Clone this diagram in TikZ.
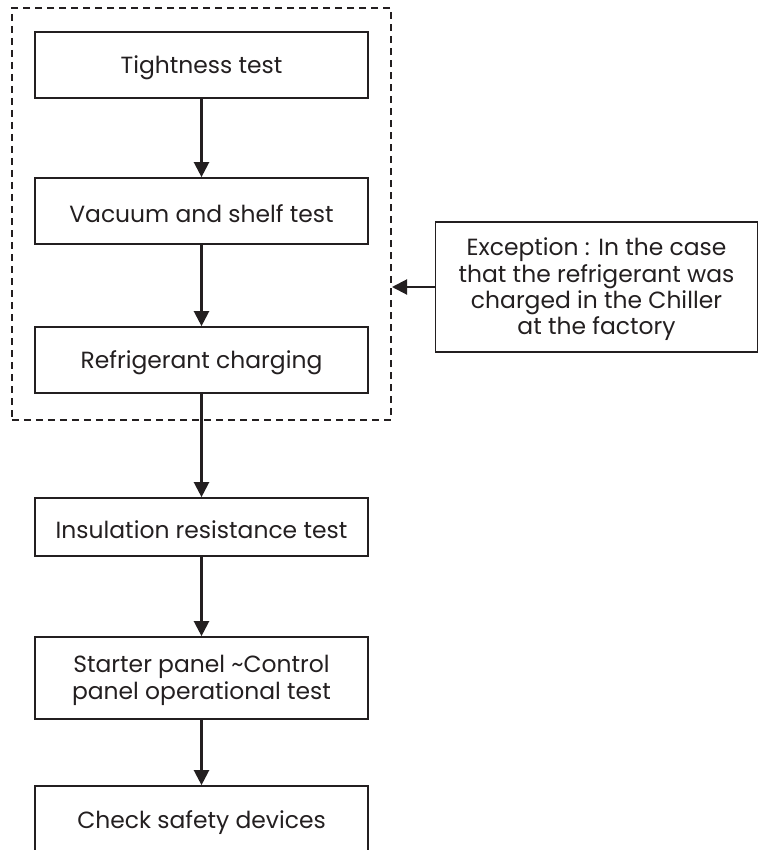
\documentclass[tikz,border=0pt]{standalone}
\usepackage{fontspec}
\setmainfont{Poppins}
\usetikzlibrary{arrows.meta}
\definecolor{ink}{HTML}{231F20}
\begin{document}
\begin{tikzpicture}[x=1bp,y=-1bp,
  box/.style={draw=ink,line width=1.7bp,minimum width=333bp,minimum height=66bp,inner sep=0pt,
    font=\fontsize{23.5}{26.5}\selectfont,text=ink,align=center},
  lbl/.style={font=\fontsize{23.5}{26.5}\selectfont,text=ink,align=center,inner sep=0pt},
  grpbox/.style={draw=ink,line width=2bp,dash pattern=on 7bp off 5bp,minimum width=379bp,minimum height=412bp,inner sep=0pt},
  flow/.style={draw=ink,line width=2.3bp,-{Triangle[length=15bp,width=15bp]}}]
\clip (0,0) rectangle (758,850);
\useasboundingbox (0,0) rectangle (758,850);
\node[grpbox] (grp) at (201.5,214) {};
\node[box] (t1) at (201.5,65) {};
\node[box] (t2) at (201.5,211) {};
\node[box] (t3) at (201.5,360) {};
\node[box,minimum height=58bp] (t4) at (201.5,527) {};
\node[box,minimum height=82bp] (t5) at (201.5,678) {};
\node[box,minimum height=68bp] (t6) at (201.5,820) {};
\node[box,minimum width=322bp,minimum height=130bp] (exc) at (596.5,287) {};
\node[lbl] (l1) at ([yshift=-2.5bp]t1.center) {Tightness test};
\node[lbl] (l2) at ([yshift=-2.5bp]t2.center) {Vacuum and shelf test};
\node[lbl] (l3) at ([yshift=-2.5bp]t3.center) {Refrigerant charging};
\node[lbl] (l4) at ([yshift=-2.5bp]t4.center) {Insulation resistance test};
\node[lbl] (l5) at ([yshift=-2.5bp]t5.center) {Starter panel \textasciitilde Control\\panel operational test};
\node[lbl] (l6) at ([yshift=-2.5bp]t6.center) {Check safety devices};
\node[lbl] (le) at ([yshift=-2.5bp]exc.center) {Exception : In the case\\that the refrigerant was\\charged in the Chiller\\at the factory};
\draw[flow] (t1) -- (t2);
\draw[flow] (t2) -- (t3);
\draw[flow] (t3) -- (t4);
\draw[flow] (t4) -- (t5);
\draw[flow] (t5) -- (t6);
\draw[flow,line width=2bp] (exc.west) -- (exc.west -| grp.east);
\end{tikzpicture}
\end{document}
